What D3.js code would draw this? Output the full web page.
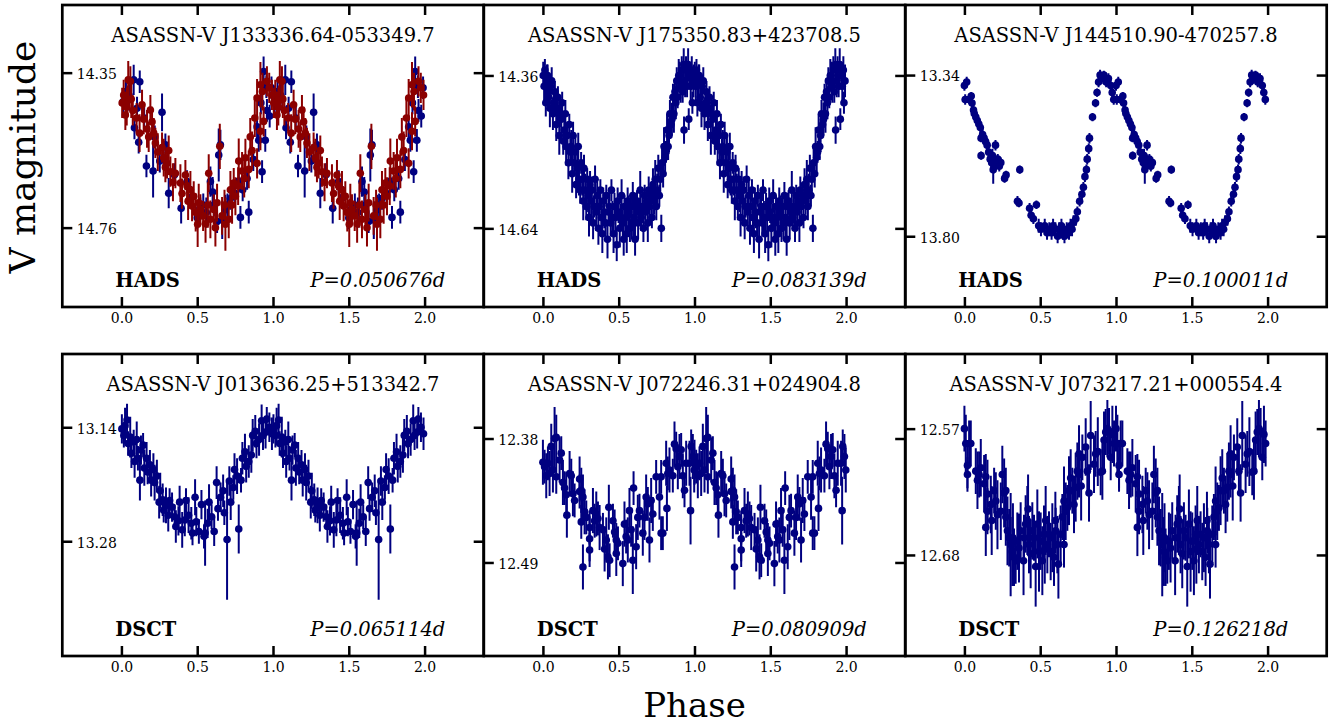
<!DOCTYPE html>
<html>
<head>
<meta charset="utf-8">
<script src="https://cdn.jsdelivr.net/npm/d3@7"></script>
<style>
  body { margin: 0; background: #fff; }
  svg text { font-family: "DejaVu Serif", serif; }
</style>
</head>
<body>
<svg id="chart" width="1331" height="725"></svg>
<script>
// ---- chart content ----
const starNames = ["ASASSN-V J133336.64-053349.7", "ASASSN-V J175350.83+423708.5", "ASASSN-V J144510.90-470257.8",
                   "ASASSN-V J013636.25+513342.7", "ASASSN-V J072246.31+024904.8", "ASASSN-V J073217.21+000554.4"];
const varTypes = ["HADS", "HADS", "HADS", "DSCT", "DSCT", "DSCT"];
const periods = ["0.050676", "0.083139", "0.100011", "0.065114", "0.080909", "0.126218"];
const xTicks = [0, 0.5, 1, 1.5, 2];
const xLimits = [-0.39, 2.39];
const yTicks = [[14.35, 14.76], [14.36, 14.64], [13.34, 13.80], [13.14, 13.28], [12.38, 12.49], [12.57, 12.68]];
const yLimits = [[14.171, 14.970], [14.231, 14.784], [13.140, 14.002], [13.050, 13.421], [12.305, 12.573], [12.505, 12.768]];

// light curves: [phase, V mag, error]; each point is shown at phase and phase+1
const lc1Blue = [[0.011,14.427,0.03],[0.081,14.369,0.04],[0.121,14.374,0.03],[0.086,14.496,0.03],[0.103,14.444,0.03],[0.114,14.534,0.03],
  [0.268,14.455,0.05],[0.165,14.597,0.03],[0.209,14.610,0.07],[0.290,14.541,0.03],[0.253,14.584,0.03],[0.312,14.669,0.04],[0.394,14.709,0.04],
  [0.433,14.638,0.03],[0.500,14.734,0.03],[0.587,14.638,0.04],[0.602,14.666,0.04],[0.642,14.568,0.07],[0.653,14.541,0.04],[0.686,14.713,0.04],
  [0.719,14.683,0.03],[0.774,14.637,0.03],[0.840,14.719,0.03],[0.785,14.733,0.03],[0.829,14.630,0.03],[0.928,14.612,0.03],[0.895,14.493,0.03],
  [0.938,14.347,0.04],[0.956,14.387,0.03],[0.949,14.529,0.03],[0.906,14.529,0.03],[0.978,14.465,0.03],[0.631,14.744,0.03],[0.540,14.700,0.03],
  [0.560,14.720,0.04],[0.610,14.700,0.03],[0.665,14.740,0.05],[0.700,14.700,0.03],[0.750,14.670,0.03],[0.800,14.660,0.03],[0.870,14.580,0.03],
  [0.920,14.430,0.03],[0.960,14.450,0.03],[0.030,14.400,0.03],[0.050,14.410,0.04],[0.150,14.470,0.03],[0.220,14.520,0.03],[0.350,14.620,0.03],
  [0.460,14.680,0.03],[0.520,14.710,0.03],[0.990,14.390,0.03]];
const lc1Red = [[0.015,14.409,0.04],[0.026,14.462,0.04],[0.035,14.440,0.05],[0.040,14.424,0.04],[0.045,14.369,0.05],[0.059,14.373,0.04],
  [0.065,14.420,0.05],[0.075,14.450,0.04],[0.136,14.435,0.04],[0.147,14.473,0.04],[0.191,14.449,0.04],[0.169,14.499,0.05],[0.202,14.480,0.04],
  [0.213,14.510,0.04],[0.224,14.536,0.04],[0.268,14.548,0.04],[0.279,14.575,0.05],[0.312,14.556,0.04],[0.301,14.590,0.04],[0.323,14.612,0.04],
  [0.356,14.616,0.04],[0.389,14.642,0.05],[0.422,14.621,0.04],[0.433,14.650,0.04],[0.455,14.660,0.05],[0.477,14.677,0.04],[0.466,14.703,0.04],
  [0.510,14.694,0.05],[0.521,14.712,0.04],[0.503,14.751,0.06],[0.539,14.729,0.04],[0.576,14.616,0.05],[0.587,14.738,0.05],[0.609,14.712,0.04],
  [0.631,14.694,0.05],[0.649,14.545,0.06],[0.664,14.729,0.05],[0.686,14.751,0.07],[0.708,14.738,0.05],[0.719,14.660,0.05],[0.741,14.642,0.04],
  [0.752,14.677,0.05],[0.774,14.584,0.06],[0.796,14.610,0.05],[0.818,14.575,0.05],[0.840,14.606,0.05],[0.862,14.556,0.05],[0.895,14.590,0.04],
  [0.917,14.505,0.05],[0.938,14.479,0.04],[0.895,14.417,0.05],[0.917,14.382,0.06],[0.960,14.373,0.04],[0.993,14.409,0.04],[0.005,14.430,0.04],
  [0.100,14.470,0.04],[0.120,14.510,0.05],[0.180,14.520,0.04],[0.240,14.560,0.05],[0.290,14.600,0.04],[0.340,14.640,0.05],[0.400,14.670,0.04],
  [0.440,14.690,0.05],[0.490,14.720,0.05],[0.555,14.750,0.05],[0.570,14.700,0.06],[0.620,14.760,0.05],[0.680,14.700,0.04],[0.730,14.700,0.05],
  [0.770,14.650,0.05],[0.810,14.630,0.05],[0.850,14.520,0.05],[0.880,14.470,0.05],[0.930,14.400,0.05],[0.975,14.390,0.04]];
const lc2 = [[0.002,14.36,0.025],[0.008,14.38,0.03],[0.013,14.35,0.02],[0.019,14.41,0.025],[0.027,14.37,0.03],[0.031,14.36,0.02],
  [0.038,14.40,0.025],[0.046,14.42,0.035],[0.051,14.38,0.02],[0.058,14.37,0.025],[0.066,14.43,0.03],[0.071,14.41,0.025],[0.079,14.39,0.02],
  [0.088,14.45,0.03],[0.093,14.42,0.025],[0.099,14.40,0.02],[0.108,14.47,0.035],[0.112,14.43,0.025],[0.121,14.44,0.03],[0.127,14.41,0.02],
  [0.134,14.48,0.025],[0.141,14.46,0.03],[0.148,14.43,0.025],[0.153,14.49,0.035],[0.162,14.47,0.025],[0.168,14.52,0.03],[0.174,14.45,0.02],
  [0.181,14.50,0.025],[0.187,14.49,0.03],[0.193,14.54,0.035],[0.199,14.47,0.025],[0.206,14.52,0.02],[0.214,14.50,0.03],[0.219,14.56,0.025],
  [0.227,14.53,0.035],[0.233,14.49,0.025],[0.238,14.55,0.03],[0.246,14.57,0.025],[0.252,14.52,0.02],[0.259,14.55,0.03],[0.266,14.59,0.035],
  [0.271,14.53,0.025],[0.279,14.57,0.03],[0.286,14.60,0.025],[0.292,14.55,0.02],[0.298,14.58,0.03],[0.304,14.62,0.035],[0.311,14.56,0.025],
  [0.318,14.59,0.03],[0.323,14.57,0.025],[0.331,14.63,0.03],[0.337,14.60,0.02],[0.344,14.55,0.025],[0.352,14.61,0.035],[0.358,14.58,0.025],
  [0.366,14.64,0.03],[0.371,14.60,0.025],[0.379,14.57,0.02],[0.385,14.62,0.03],[0.392,14.65,0.035],[0.398,14.59,0.025],[0.405,14.61,0.03],
  [0.413,14.63,0.025],[0.418,14.58,0.02],[0.426,14.66,0.035],[0.433,14.61,0.025],[0.439,14.60,0.03],[0.447,14.63,0.025],[0.452,14.57,0.02],
  [0.458,14.62,0.03],[0.466,14.65,0.035],[0.472,14.60,0.025],[0.479,14.62,0.03],[0.487,14.67,0.03],[0.493,14.59,0.025],[0.499,14.61,0.02],
  [0.507,14.64,0.035],[0.512,14.62,0.025],[0.519,14.58,0.03],[0.527,14.63,0.025],[0.533,14.66,0.03],[0.538,14.60,0.02],[0.546,14.62,0.025],
  [0.553,14.65,0.035],[0.559,14.59,0.025],[0.566,14.61,0.03],[0.574,14.64,0.025],[0.581,14.60,0.02],[0.587,14.63,0.03],[0.593,14.58,0.025],
  [0.601,14.62,0.035],[0.608,14.66,0.03],[0.614,14.60,0.025],[0.621,14.59,0.02],[0.628,14.63,0.03],[0.636,14.61,0.025],[0.642,14.57,0.035],
  [0.649,14.62,0.025],[0.656,14.60,0.03],[0.663,14.64,0.025],[0.671,14.58,0.02],[0.677,14.61,0.03],[0.684,14.59,0.025],[0.692,14.63,0.035],
  [0.698,14.57,0.025],[0.705,14.60,0.03],[0.713,14.58,0.025],[0.719,14.62,0.02],[0.726,14.56,0.03],[0.733,14.59,0.025],[0.741,14.55,0.035],
  [0.748,14.60,0.025],[0.754,14.57,0.03],[0.761,14.53,0.025],[0.768,14.58,0.02],[0.774,14.55,0.03],[0.781,14.64,0.025],[0.786,14.52,0.03],
  [0.793,14.54,0.025],[0.799,14.49,0.035],[0.806,14.51,0.025],[0.812,14.50,0.02],[0.819,14.46,0.03],[0.826,14.49,0.025],[0.832,14.47,0.03],
  [0.838,14.43,0.025],[0.845,14.45,0.02],[0.851,14.44,0.03],[0.858,14.40,0.025],[0.864,14.43,0.035],[0.871,14.39,0.025],[0.877,14.41,0.03],
  [0.883,14.37,0.025],[0.889,14.40,0.02],[0.896,14.36,0.03],[0.902,14.36,0.025],[0.909,14.38,0.03],[0.916,14.35,0.025],[0.922,14.39,0.02],
  [0.929,14.34,0.03],[0.931,14.46,0.025],[0.938,14.37,0.03],[0.944,14.35,0.025],[0.951,14.38,0.02],[0.958,14.34,0.03],[0.962,14.44,0.02],
  [0.968,14.36,0.025],[0.975,14.38,0.03],[0.982,14.35,0.025],[0.986,14.41,0.02],[0.993,14.37,0.03]];
const lc3 = [[0.000,13.37,0.015],[0.005,13.41,0.015],[0.015,13.36,0.015],[0.030,13.41,0.012],[0.045,13.40,0.012],[0.050,13.42,0.012],
  [0.060,13.44,0.012],[0.065,13.45,0.015],[0.075,13.46,0.012],[0.085,13.47,0.012],[0.095,13.48,0.012],[0.105,13.49,0.015],[0.110,13.52,0.012],
  [0.120,13.51,0.015],[0.130,13.52,0.015],[0.140,13.53,0.012],[0.150,13.54,0.015],[0.160,13.56,0.015],[0.110,13.57,0.012],[0.205,13.54,0.015],
  [0.170,13.58,0.015],[0.180,13.59,0.02],[0.185,13.57,0.02],[0.195,13.60,0.02],[0.200,13.58,0.015],[0.210,13.59,0.015],[0.220,13.58,0.015],
  [0.230,13.60,0.015],[0.240,13.59,0.015],[0.190,13.61,0.04],[0.265,13.635,0.012],[0.275,13.625,0.012],[0.365,13.61,0.012],[0.350,13.70,0.015],
  [0.360,13.705,0.012],[0.430,13.72,0.015],[0.440,13.74,0.015],[0.455,13.75,0.015],[0.475,13.71,0.012],[0.490,13.77,0.02],[0.505,13.78,0.02],
  [0.530,13.77,0.02],[0.545,13.79,0.02],[0.560,13.78,0.02],[0.575,13.79,0.02],[0.585,13.77,0.02],[0.600,13.78,0.02],[0.615,13.80,0.02],
  [0.625,13.78,0.02],[0.640,13.77,0.02],[0.650,13.79,0.02],[0.660,13.80,0.02],[0.675,13.78,0.02],[0.690,13.79,0.02],[0.700,13.77,0.02],
  [0.710,13.78,0.02],[0.720,13.76,0.02],[0.735,13.75,0.02],[0.745,13.73,0.015],[0.760,13.70,0.015],[0.775,13.68,0.015],[0.785,13.66,0.015],
  [0.795,13.63,0.015],[0.805,13.61,0.015],[0.810,13.58,0.015],[0.820,13.55,0.015],[0.825,13.52,0.015],[0.845,13.46,0.012],[0.865,13.42,0.012],
  [0.875,13.39,0.012],[0.885,13.36,0.015],[0.895,13.34,0.015],[0.905,13.35,0.015],[0.920,13.34,0.012],[0.935,13.36,0.015],[0.950,13.35,0.015],
  [0.965,13.37,0.015],[0.975,13.39,0.015],[0.985,13.41,0.015]];
const lc4 = [[0.003,13.142,0.018],[0.016,13.150,0.015],[0.024,13.138,0.022],[0.037,13.131,0.02],[0.044,13.160,0.015],[0.058,13.152,0.025],
  [0.066,13.172,0.018],[0.081,13.158,0.015],[0.087,13.182,0.02],[0.101,13.155,0.022],[0.109,13.178,0.015],[0.122,13.205,0.025],[0.129,13.168,0.018],
  [0.143,13.162,0.015],[0.151,13.190,0.022],[0.166,13.178,0.02],[0.173,13.195,0.015],[0.188,13.186,0.018],[0.196,13.205,0.02],[0.211,13.192,0.02],
  [0.219,13.208,0.022],[0.234,13.200,0.02],[0.249,13.232,0.02],[0.256,13.218,0.022],[0.272,13.229,0.02],[0.279,13.242,0.015],[0.294,13.236,0.022],
  [0.309,13.248,0.02],[0.318,13.230,0.015],[0.334,13.238,0.018],[0.351,13.250,0.015],[0.359,13.262,0.02],[0.376,13.255,0.018],[0.384,13.232,0.02],
  [0.401,13.266,0.022],[0.418,13.254,0.02],[0.426,13.230,0.015],[0.443,13.248,0.022],[0.461,13.258,0.02],[0.469,13.270,0.015],[0.486,13.226,0.022],
  [0.494,13.256,0.018],[0.511,13.268,0.015],[0.528,13.235,0.018],[0.545,13.274,0.015],[0.552,13.270,0.04],[0.569,13.258,0.018],[0.578,13.232,0.022],
  [0.595,13.250,0.015],[0.612,13.268,0.018],[0.628,13.208,0.02],[0.637,13.240,0.015],[0.654,13.226,0.018],[0.671,13.218,0.02],[0.679,13.245,0.015],
  [0.697,13.278,0.074],[0.712,13.206,0.018],[0.721,13.232,0.022],[0.738,13.214,0.015],[0.746,13.192,0.02],[0.763,13.200,0.022],[0.774,13.265,0.03],
  [0.789,13.205,0.015],[0.798,13.178,0.02],[0.815,13.170,0.022],[0.823,13.188,0.02],[0.840,13.182,0.02],[0.857,13.174,0.022],[0.866,13.150,0.02],
  [0.883,13.145,0.02],[0.891,13.160,0.018],[0.908,13.155,0.02],[0.925,13.132,0.02],[0.934,13.150,0.018],[0.951,13.146,0.02],[0.959,13.130,0.015],
  [0.976,13.140,0.018],[0.993,13.148,0.02]];
const lc5 = [[0.000,12.401,0.02],[0.011,12.405,0.015],[0.022,12.413,0.02],[0.033,12.402,0.015],[0.044,12.411,0.02],[0.055,12.387,0.02],
  [0.077,12.380,0.028],[0.088,12.379,0.02],[0.066,12.408,0.02],[0.088,12.414,0.015],[0.110,12.399,0.02],[0.121,12.393,0.015],[0.132,12.419,0.02],
  [0.143,12.424,0.015],[0.154,12.430,0.02],[0.176,12.411,0.02],[0.187,12.413,0.015],[0.198,12.429,0.02],[0.158,12.448,0.02],[0.209,12.435,0.015],
  [0.242,12.416,0.02],[0.242,12.427,0.015],[0.253,12.426,0.02],[0.264,12.432,0.02],[0.253,12.454,0.015],[0.275,12.445,0.02],[0.286,12.450,0.015],
  [0.264,12.494,0.02],[0.308,12.459,0.015],[0.308,12.469,0.02],[0.308,12.479,0.015],[0.330,12.444,0.02],[0.341,12.453,0.015],[0.352,12.447,0.02],
  [0.363,12.451,0.015],[0.374,12.459,0.02],[0.396,12.461,0.015],[0.407,12.478,0.02],[0.418,12.470,0.02],[0.429,12.485,0.02],[0.440,12.488,0.015],
  [0.435,12.441,0.02],[0.462,12.453,0.015],[0.473,12.463,0.02],[0.484,12.470,0.015],[0.484,12.482,0.02],[0.495,12.473,0.015],[0.527,12.491,0.02],
  [0.538,12.456,0.02],[0.549,12.467,0.015],[0.560,12.470,0.02],[0.571,12.444,0.02],[0.582,12.461,0.015],[0.593,12.488,0.03],[0.598,12.424,0.015],
  [0.615,12.476,0.02],[0.626,12.450,0.02],[0.637,12.444,0.015],[0.659,12.464,0.02],[0.670,12.450,0.02],[0.681,12.432,0.02],[0.692,12.438,0.015],
  [0.703,12.470,0.02],[0.714,12.435,0.02],[0.725,12.447,0.015],[0.747,12.414,0.015],[0.769,12.432,0.02],[0.780,12.414,0.015],[0.780,12.464,0.015],
  [0.791,12.464,0.015],[0.813,12.402,0.02],[0.824,12.411,0.015],[0.818,12.442,0.02],[0.835,12.408,0.02],[0.857,12.413,0.015],[0.868,12.385,0.02],
  [0.879,12.389,0.015],[0.890,12.405,0.02],[0.901,12.396,0.02],[0.912,12.390,0.015],[0.923,12.413,0.02],[0.934,12.426,0.015],[0.945,12.402,0.02],
  [0.967,12.402,0.02],[0.978,12.387,0.015],[0.989,12.396,0.02],[0.974,12.444,0.03],[0.998,12.408,0.02]];
const lc6 = [[0.000,12.570,0.02],[0.009,12.583,0.025],[0.031,12.583,0.02],[0.042,12.583,0.02],[0.020,12.602,0.02],[0.020,12.610,0.015],
  [0.075,12.607,0.02],[0.086,12.615,0.025],[0.097,12.610,0.02],[0.108,12.604,0.025],[0.130,12.618,0.025],[0.141,12.612,0.02],[0.152,12.627,0.03],
  [0.152,12.642,0.02],[0.141,12.656,0.025],[0.174,12.636,0.025],[0.196,12.624,0.02],[0.207,12.633,0.025],[0.218,12.645,0.03],[0.240,12.642,0.025],
  [0.262,12.626,0.03],[0.273,12.624,0.02],[0.273,12.647,0.025],[0.284,12.659,0.03],[0.295,12.665,0.025],[0.305,12.671,0.045],[0.316,12.677,0.03],
  [0.327,12.682,0.025],[0.338,12.685,0.02],[0.349,12.668,0.025],[0.360,12.674,0.03],[0.371,12.659,0.025],[0.393,12.665,0.02],[0.404,12.653,0.025],
  [0.415,12.650,0.03],[0.426,12.671,0.025],[0.437,12.679,0.03],[0.448,12.659,0.025],[0.459,12.665,0.02],[0.481,12.653,0.03],[0.492,12.677,0.035],
  [0.503,12.668,0.025],[0.514,12.685,0.03],[0.525,12.662,0.025],[0.536,12.650,0.03],[0.547,12.671,0.025],[0.558,12.662,0.02],[0.569,12.677,0.025],
  [0.580,12.665,0.03],[0.591,12.682,0.025],[0.602,12.659,0.02],[0.613,12.671,0.025],[0.635,12.662,0.025],[0.646,12.647,0.02],[0.657,12.671,0.02],
  [0.657,12.633,0.03],[0.668,12.642,0.025],[0.679,12.639,0.02],[0.690,12.624,0.03],[0.701,12.613,0.025],[0.712,12.624,0.02],[0.723,12.636,0.025],
  [0.734,12.621,0.03],[0.745,12.607,0.025],[0.756,12.610,0.02],[0.756,12.592,0.025],[0.778,12.595,0.02],[0.800,12.586,0.025],[0.811,12.607,0.02],
  [0.822,12.626,0.025],[0.833,12.576,0.03],[0.855,12.601,0.025],[0.866,12.592,0.02],[0.899,12.608,0.02],[0.910,12.607,0.025],[0.921,12.580,0.025],
  [0.932,12.573,0.02],[0.943,12.570,0.025],[0.954,12.572,0.02],[0.976,12.575,0.025],[0.987,12.583,0.02],[0.320,12.665,0.03],[0.390,12.685,0.03],
  [0.470,12.690,0.035],[0.530,12.675,0.03],[0.620,12.688,0.03],[0.600,12.650,0.025],[0.420,12.640,0.03],[0.180,12.650,0.03],[0.250,12.610,0.025],
  [0.770,12.620,0.03],[0.880,12.590,0.03],[0.965,12.595,0.02]];

const navy = "#000080", darkRed = "#8b0000";
const panelSeries = [
  [{data: lc1Blue, color: navy}, {data: lc1Red, color: darkRed}],
  [{data: lc2, color: navy}],
  [{data: lc3, color: navy}],
  [{data: lc4, color: navy}],
  [{data: lc5, color: navy}],
  [{data: lc6, color: navy}]
];

// ---- layout ----
const colLeft = [62.3, 483.8, 905.3], panelW = 421.4;
const rowTop = [5, 354], panelH = 302;
const svg = d3.select("#chart");

panelSeries.forEach((series, i) => {
  let col = i % 3, row = Math.floor(i / 3);
  let g = svg.append("g").attr("transform", `translate(${colLeft[col]},${rowTop[row]})`);

  let x = d3.scaleLinear().domain(xLimits).range([0, panelW]);
  let y = d3.scaleLinear().domain(yLimits[i]).range([0, panelH]);

  g.append("clipPath").attr("id", "clip" + i)
    .append("rect").attr("width", panelW).attr("height", panelH);
  let plot = g.append("g").attr("clip-path", `url(#clip${i})`);

  series.forEach(s => {
    // phase-folded, shown twice
    let pts = s.data.flatMap(d => [[d[0], d[1], d[2]], [d[0] + 1, d[1], d[2]]]);
    let sg = plot.append("g");
    sg.selectAll("line").data(pts).enter().append("line")
      .attr("x1", d => x(d[0])).attr("x2", d => x(d[0]))
      .attr("y1", d => y(d[1] - d[2])).attr("y2", d => y(d[1] + d[2]))
      .attr("stroke", s.color).attr("stroke-width", 2);
    sg.selectAll("circle").data(pts).enter().append("circle")
      .attr("cx", d => x(d[0])).attr("cy", d => y(d[1]))
      .attr("r", 3.8).attr("fill", s.color);
  });

  // axes, ticks pointing inward
  let fmtY = d3.format(".2f"), fmtX = d3.format(".1f");
  let axL = g.append("g").call(d3.axisLeft(y).tickValues(yTicks[i]).tickSize(-10).tickPadding(-14.5).tickFormat(fmtY));
  axL.selectAll("text").attr("text-anchor", "start").attr("dy", "0.42em");
  let axR = g.append("g").attr("transform", `translate(${panelW},0)`)
    .call(d3.axisRight(y).tickValues(yTicks[i]).tickSize(-10).tickFormat(""));
  let axB = g.append("g").attr("transform", `translate(0,${panelH})`)
    .call(d3.axisBottom(x).tickValues(xTicks).tickSize(-10).tickPadding(6.5).tickFormat(fmtX));
  let axT = g.append("g").call(d3.axisTop(x).tickValues(xTicks).tickSize(-10).tickFormat(""));

  [axL, axR, axB, axT].forEach(a => {
    a.select(".domain").remove();
    a.selectAll(".tick line").attr("stroke", "#000").attr("stroke-width", 2.5);
    a.selectAll("text").attr("font-family", "DejaVu Serif").attr("font-size", 14).attr("fill", "#000");
  });

  g.append("rect").attr("width", panelW).attr("height", panelH)
    .attr("fill", "none").attr("stroke", "#000").attr("stroke-width", 2.7);

  g.append("text").attr("x", panelW / 2).attr("y", 36.7).attr("text-anchor", "middle")
    .style("font-size", "19.5px").text(starNames[i]);
  g.append("text").attr("x", 53).attr("y", 281.7)
    .style("font-size", "19.5px").style("font-weight", "bold").text(varTypes[i]);
  g.append("text").attr("x", 383).attr("y", 281.7).attr("text-anchor", "end")
    .style("font-size", "19.5px").style("font-style", "italic").text("P=" + periods[i] + "d");
});

svg.append("text").attr("transform", "translate(35,157) rotate(-90)").attr("text-anchor", "middle")
  .style("font-size", "36px").text("V magnitude");
svg.append("text").attr("x", 694.5).attr("y", 717).attr("text-anchor", "middle")
  .style("font-size", "34px").text("Phase");
</script>
</body>
</html>
